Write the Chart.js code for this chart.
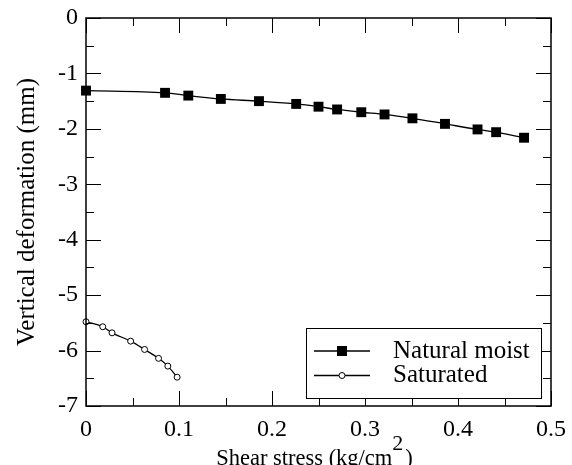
<!DOCTYPE html>
<html><head><meta charset="utf-8">
<script src="https://cdn.jsdelivr.net/npm/chart.js@4.4.0/dist/chart.umd.min.js"></script>
<style>html,body{margin:0;padding:0;background:#fff;} canvas{display:block;}</style>
</head><body>
<canvas id="c" width="572" height="465"></canvas>
<script>
const naturalX = [0, 0.085, 0.110, 0.145, 0.186, 0.226, 0.250, 0.270, 0.296, 0.321, 0.351, 0.386, 0.421, 0.441, 0.471];
const naturalY = [-1.31, -1.35, -1.40, -1.46, -1.50, -1.55, -1.60, -1.65, -1.70, -1.74, -1.81, -1.91, -2.01, -2.06, -2.16];
const saturatedX = [0, 0.018, 0.028, 0.048, 0.063, 0.078, 0.088, 0.098];
const saturatedY = [-5.48, -5.57, -5.68, -5.83, -5.98, -6.14, -6.28, -6.48];
const seriesLabels = ['Natural moist', 'Saturated'];
const xTitleParts = ['Shear stress (kg/cm', '2', ')'];
const yTitle = 'Vertical deformation (mm)';

const FONT = '"Liberation Serif", "Times New Roman", serif';
const toPts = (xs, ys) => xs.map((v, i) => ({x: v, y: ys[i]}));

const frameTicks = {
  id: 'frameTicks',
  afterDatasetsDraw(chart) {
    const {ctx, chartArea: a, scales: {x, y}} = chart;
    ctx.save();
    ctx.strokeStyle = '#000';
    ctx.lineWidth = 1;
    ctx.beginPath();
    const xt = x.ticks.map(t => t.value);
    const yt = y.ticks.map(t => t.value);
    const xAll = [];
    xt.forEach((v, i) => { xAll.push([v, 15]); if (i < xt.length - 1) xAll.push([(v + xt[i + 1]) / 2, 8]); });
    const yAll = [];
    yt.forEach((v, i) => { yAll.push([v, 15]); if (i < yt.length - 1) yAll.push([(v + yt[i + 1]) / 2, 8]); });
    xAll.forEach(([v, L]) => {
      const px = Math.round(x.getPixelForValue(v)) + 0.5;
      ctx.moveTo(px, a.bottom); ctx.lineTo(px, a.bottom - L);
      ctx.moveTo(px, a.top); ctx.lineTo(px, a.top + L);
    });
    yAll.forEach(([v, L]) => {
      const py = Math.round(y.getPixelForValue(v)) + 0.5;
      ctx.moveTo(a.left, py); ctx.lineTo(a.left + L, py);
      ctx.moveTo(a.right, py); ctx.lineTo(a.right - L, py);
    });
    ctx.stroke();
    ctx.lineWidth = 1.5;
    ctx.strokeRect(a.left, a.top, a.right - a.left, a.bottom - a.top);
    ctx.restore();
  },
  afterDraw(chart) {
    const {ctx, chartArea: a} = chart;
    ctx.save();
    // legend box
    const bx1 = a.right - 245, bx2 = a.right - 10, by1 = a.bottom - 78, by2 = a.bottom - 8;
    ctx.fillStyle = '#fff';
    ctx.fillRect(bx1, by1, bx2 - bx1, by2 - by1);
    ctx.strokeStyle = '#000'; ctx.lineWidth = 1;
    ctx.strokeRect(bx1 + 0.5, by1 + 0.5, bx2 - bx1, by2 - by1);
    chart.data.datasets.forEach((ds, i) => {
      const ry = by1 + 23 + i * 24.5;
      ctx.beginPath();
      ctx.lineWidth = 1.3;
      ctx.strokeStyle = '#000';
      ctx.moveTo(bx1 + 8, ry); ctx.lineTo(bx1 + 64, ry); ctx.stroke();
      const mx = bx1 + 36;
      if (ds.pointStyle === 'rect') {
        ctx.fillStyle = '#000';
        ctx.fillRect(mx - 5, ry - 5, 10, 10);
      } else {
        ctx.beginPath();
        ctx.lineWidth = 1;
        ctx.fillStyle = '#fff';
        ctx.arc(mx, ry, 3, 0, Math.PI * 2);
        ctx.fill(); ctx.stroke();
      }
      ctx.fillStyle = '#000';
      ctx.font = '25px ' + FONT;
      ctx.textBaseline = 'alphabetic';
      ctx.textAlign = 'left';
      ctx.fillText(ds.label, bx1 + 87, ry + 6.5);
    });
    // x title with superscript
    const tf = '22.5px ' + FONT;
    ctx.font = tf;
    ctx.textBaseline = 'alphabetic';
    ctx.textAlign = 'left';
    const w0 = ctx.measureText(xTitleParts[0]).width;
    const w2 = ctx.measureText(xTitleParts[2]).width;
    ctx.font = '22px ' + FONT;
    const w1 = ctx.measureText(xTitleParts[1]).width;
    const gap = w1 + 2;
    const cx = (a.left + a.right) / 2;
    const sx = cx - (w0 + gap + w2) / 2 - 4;
    const base = 465;
    ctx.fillStyle = '#000';
    ctx.fillText(xTitleParts[1], sx + w0, base - 15);
    ctx.font = tf;
    ctx.fillText(xTitleParts[0], sx, base);
    ctx.fillText(xTitleParts[2], sx + w0 + gap, base);
    ctx.restore();
  }
};

new Chart(document.getElementById('c'), {
  type: 'line',
  data: {
    datasets: [
      {
        label: seriesLabels[0],
        data: toPts(naturalX, naturalY),
        borderColor: '#000', borderWidth: 1.3,
        pointStyle: 'rect', pointRadius: 7, pointHoverRadius: 7,
        pointBackgroundColor: '#000', pointBorderColor: '#000', pointBorderWidth: 0,
        cubicInterpolationMode: 'monotone', fill: false, clip: false
      },
      {
        label: seriesLabels[1],
        data: toPts(saturatedX, saturatedY),
        borderColor: '#000', borderWidth: 1.3,
        pointStyle: 'circle', pointRadius: 3, pointHoverRadius: 3,
        pointBackgroundColor: '#fff', pointBorderColor: '#000', pointBorderWidth: 1,
        cubicInterpolationMode: 'monotone', fill: false, clip: false
      }
    ]
  },
  options: {
    responsive: false,
    devicePixelRatio: 1,
    animation: false,
    events: [],
    layout: {padding: {top: 18, right: 21, left: 0, bottom: 0}},
    plugins: {legend: {display: false}, tooltip: {enabled: false}},
    scales: {
      x: {
        type: 'linear', min: 0, max: 0.5,
        ticks: {stepSize: 0.1, color: '#000', font: {family: FONT, size: 24}, padding: 9, maxRotation: 0},
        grid: {display: false, drawTicks: false},
        border: {display: false},
        afterFit: s => { s.height = 59; s.paddingLeft = 0; s.paddingRight = 0; }
      },
      y: {
        type: 'linear', min: -7, max: 0,
        ticks: {stepSize: 1, color: '#000', font: {family: FONT, size: 24}, padding: 8},
        grid: {display: false, drawTicks: false},
        border: {display: false},
        title: {display: true, text: yTitle, color: '#000', font: {family: FONT, size: 25}, padding: {top: 12, bottom: 0}},
        afterFit: s => { s.width = 86; s.paddingTop = 0; s.paddingBottom = 0; }
      }
    }
  },
  plugins: [frameTicks]
});
</script>
</body></html>
